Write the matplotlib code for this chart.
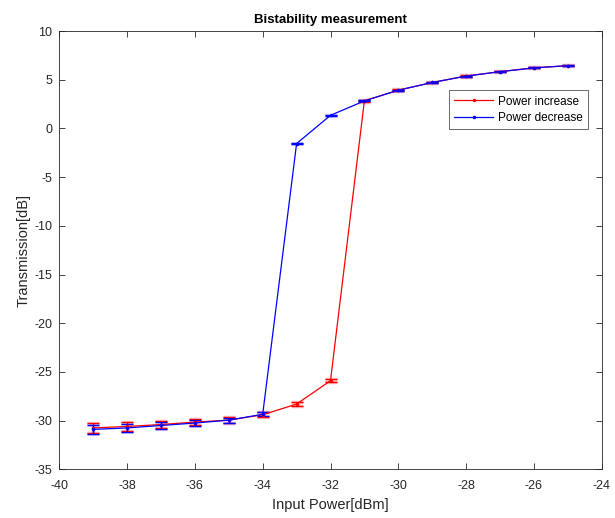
import matplotlib
matplotlib.use("Agg")
import matplotlib.pyplot as plt
from matplotlib.lines import Line2D
import numpy as np

plt.rcParams['font.family'] = ['Liberation Sans', 'DejaVu Sans']
plt.rcParams['axes.unicode_minus'] = False

x_inc = [-39, -38, -37, -36, -35, -34, -33, -32, -31, -30, -29, -28, -27, -26, -25]
y_inc = [-30.75, -30.6, -30.4, -30.15, -29.95, -29.4, -28.3, -25.9, 2.85, 3.93, 4.72, 5.38, 5.83, 6.22, 6.45]
e_inc = [0.5, 0.45, 0.4, 0.35, 0.3, 0.25, 0.2, 0.15, 0.12, 0.1, 0.08, 0.07, 0.06, 0.06, 0.05]

x_dec = [-39, -38, -37, -36, -35, -34, -33, -32, -31, -30, -29, -28, -27, -26, -25]
y_dec = [-30.9, -30.75, -30.5, -30.25, -29.95, -29.35, -1.55, 1.35, 2.83, 3.93, 4.72, 5.38, 5.83, 6.22, 6.45]
e_dec = [0.5, 0.45, 0.35, 0.3, 0.25, 0.2, 0.05, 0.05, 0.05, 0.05, 0.05, 0.05, 0.05, 0.05, 0.05]

fig = plt.figure(figsize=(6.15, 5.18), dpi=100)
ax = fig.add_axes([0.0964, 0.094, 0.882, 0.846])

# light halos for error bars
ax.errorbar(x_inc, y_inc, yerr=e_inc, fmt='none', ecolor=(1, 0.5, 0.5), alpha=0.55,
            elinewidth=2.5, capsize=4.5, capthick=2.5)
ax.errorbar(x_dec, y_dec, yerr=e_dec, fmt='none', ecolor=(0.5, 0.5, 1), alpha=0.45,
            elinewidth=2.2, capsize=4.5, capthick=2.2)

ax.errorbar(x_inc, y_inc, yerr=e_inc, color='red', marker='.', markersize=3,
            linewidth=0.9, elinewidth=0.9, capsize=4, capthick=0.9)
ax.errorbar(x_dec, y_dec, yerr=e_dec, color='blue', marker='.', markersize=3,
            linewidth=0.9, elinewidth=0.9, capsize=4, capthick=0.9)

ax.set_xlim(-40, -24)
ax.set_ylim(-35, 10)
ax.set_xticks(np.arange(-40, -23, 2))
ax.set_yticks(np.arange(-35, 11, 5))
ax.tick_params(direction='in', labelsize=9, length=4, width=0.6, top=True, right=True,
               colors='#262626')
ax.tick_params(axis='x', pad=8)
ax.tick_params(axis='y', pad=5)
for s in ax.spines.values():
    s.set_linewidth(0.6)
    s.set_color('#262626')

ax.set_xlabel('Input Power[dBm]', fontsize=10.5, color='#262626', labelpad=4)
ax.set_ylabel('Transmission[dB]', fontsize=10.5, color='#262626', labelpad=3)
ax.set_title('Bistability measurement', fontsize=9.5, fontweight='bold', pad=6)

handles = [Line2D([], [], color='red', marker='.', markersize=3, linewidth=0.9),
           Line2D([], [], color='blue', marker='.', markersize=3, linewidth=0.9)]
leg = ax.legend(handles, ['Power increase', 'Power decrease'], loc='upper right',
                bbox_to_anchor=(0.975, 0.865), fontsize=8.5,
                frameon=True, fancybox=False, edgecolor='#262626', borderpad=0.45,
                handlelength=3.3, handletextpad=0.4, labelspacing=0.35, borderaxespad=0.0)
leg.get_frame().set_linewidth(0.6)

fig.savefig('out.png', dpi=100)
